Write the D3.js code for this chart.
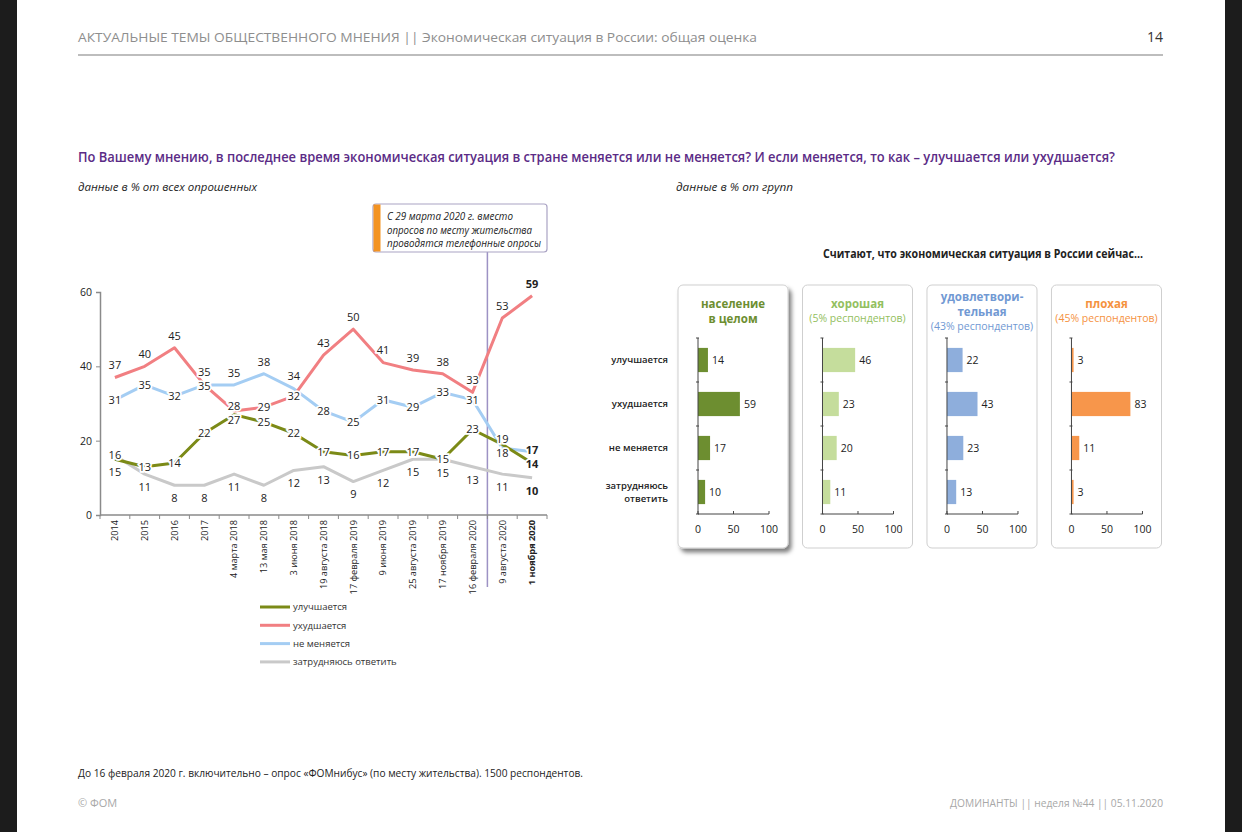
<!DOCTYPE html>
<html>
<head>
<meta charset="utf-8">
<script src="https://cdn.jsdelivr.net/npm/d3@7"></script>
<style>
  body { margin: 0; background: #1c1c1c; }
  svg { display: block; font-family: "Open Sans", sans-serif; }
</style>
</head>
<body>
<svg id="page" width="1242" height="832"></svg>
<script>
// line chart data
const dates = ["2014", "2015", "2016", "2017", "4 марта 2018", "13 мая 2018", "3 июня 2018",
  "19 августа 2018", "17 февраля 2019", "9 июня 2019", "25 августа 2019", "17 ноября 2019",
  "16 февраля 2020", "9 августа 2020", "1 ноября 2020"];
const worse = [37, 40, 45, 35, 28, 29, 32, 43, 50, 41, 39, 38, 33, 53, 59];
const same = [31, 35, 32, 35, 35, 38, 34, 28, 25, 31, 29, 33, 31, 18, 17];
const better = [15, 13, 14, 22, 27, 25, 22, 17, 16, 17, 17, 15, 23, 19, 14];
const hard = [16, 11, 8, 8, 11, 8, 12, 13, 9, 12, 15, 15, 13, 11, 10];
const yTicks = [0, 20, 40, 60];

// group panels data
const answers = ["улучшается", "ухудшается", "не меняется", "затрудняюсь ответить"];
const groupTitles = [["население", "в целом"], ["хорошая"], ["удовлетвори-", "тельная"], ["плохая"]];
const groupNotes = ["", "(5% респондентов)", "(43% респондентов)", "(45% респондентов)"];
const grpAll = [14, 59, 17, 10];
const grpGood = [46, 23, 20, 11];
const grpOk = [22, 43, 23, 13];
const grpBad = [3, 83, 11, 3];
const panelTicks = [0, 50, 100];

const svg = d3.select("#page");

// text helper: squeeze to the width of the condensed original font
function fit(t, w) {
  t.attr("textLength", w).attr("lengthAdjust", "spacingAndGlyphs");
  return t;
}

// page
svg.append("rect").attr("x", 17).attr("y", 0).attr("width", 1208).attr("height", 832).attr("fill", "#fff");

const defs = svg.append("defs");
defs.append("filter").attr("id", "shadow").attr("x", "-10%").attr("y", "-10%").attr("width", "130%").attr("height", "130%")
  .append("feDropShadow").attr("dx", 3).attr("dy", 4).attr("stdDeviation", 2)
  .attr("flood-color", "#000").attr("flood-opacity", 0.5);

// header
var head = svg.append("text").attr("x", 78).attr("y", 42).attr("font-size", 13).attr("fill", "#8e8e8e");
head.append("tspan").text("АКТУАЛЬНЫЕ ТЕМЫ ОБЩЕСТВЕННОГО МНЕНИЯ  ||  ");
head.append("tspan").text("Экономическая ситуация в России: общая оценка");
fit(head, 679);
svg.append("text").attr("x", 1163).attr("y", 42).attr("text-anchor", "end")
  .attr("font-size", 14).attr("fill", "#333").text("14");
svg.append("line").attr("x1", 78).attr("x2", 1163).attr("y1", 55).attr("y2", 55)
  .attr("stroke", "#bdbdbd").attr("stroke-width", 2);

fit(svg.append("text").attr("x", 78).attr("y", 162).attr("font-size", 14).attr("font-weight", 600)
  .attr("fill", "#5b2b86")
  .text("По Вашему мнению, в последнее время экономическая ситуация в стране меняется или не меняется? И если меняется, то как – улучшается или ухудшается?"), 1037);

fit(svg.append("text").attr("x", 78).attr("y", 191).attr("font-size", 11).attr("font-style", "italic")
  .attr("fill", "#222").text("данные в % от всех опрошенных"), 179);
fit(svg.append("text").attr("x", 676).attr("y", 191).attr("font-size", 11).attr("font-style", "italic")
  .attr("fill", "#222").text("данные в % от групп"), 117);

// ---------- line chart ----------
const x = d3.scaleBand().domain(dates).range([100, 547]);
const y = d3.scaleLinear().domain([0, 60]).range([515, 292]);
const cx = d => x(d) + x.bandwidth() / 2;

const series = [
  { name: "улучшается", values: better, color: "#7b8a17" },
  { name: "ухудшается", values: worse, color: "#f17f82" },
  { name: "не меняется", values: same, color: "#a4cdf3" },
  { name: "затрудняюсь ответить", values: hard, color: "#c9c9c9" }
];

// switch of method
svg.append("line").attr("x1", x(dates[13])).attr("x2", x(dates[13]))
  .attr("y1", 252).attr("y2", 587).attr("stroke", "#9d92c4").attr("stroke-width", 1.5);

var note = svg.append("g");
note.append("rect").attr("x", 373).attr("y", 204).attr("width", 174).attr("height", 48).attr("rx", 3)
  .attr("fill", "#fff").attr("stroke", "#aaa3c4").attr("stroke-width", 1.2);
note.append("rect").attr("x", 373.5).attr("y", 204.5).attr("width", 7).attr("height", 47).attr("fill", "#f39322");
var noteLines = ["С 29 марта 2020 г. вместо", "опросов по месту жительства", "проводятся телефонные опросы"];
var noteW = [126, 145, 154];
noteLines.forEach(function (l, i) {
  fit(note.append("text").attr("x", 387).attr("y", 220 + i * 13.5).attr("font-size", 11)
    .attr("font-style", "italic").attr("fill", "#222").text(l), noteW[i]);
});

// axes
var axisY = svg.append("g").attr("transform", "translate(100,0)")
  .call(d3.axisLeft(y).tickValues(yTicks).tickSize(4).tickPadding(4));
axisY.select(".domain").attr("stroke", "#8a8a8a").attr("stroke-width", 1.5);
axisY.selectAll(".tick line").attr("stroke", "#8a8a8a");
axisY.selectAll("text").attr("font-size", 10.5).attr("fill", "#222").attr("font-family", "Open Sans");

svg.append("line").attr("x1", 100).attr("x2", 547).attr("y1", y(0)).attr("y2", y(0))
  .attr("stroke", "#8a8a8a").attr("stroke-width", 1.5);
svg.append("g").selectAll("line").data(dates.map(d => x(d)).concat([x.range()[1]])).join("line")
  .attr("x1", d => d).attr("x2", d => d).attr("y1", y(0)).attr("y2", y(0) + 4)
  .attr("stroke", "#8a8a8a");
svg.append("g").selectAll("text").data(dates).join("text")
  .attr("transform", d => "translate(" + cx(d) + "," + (y(0) + 5) + ") rotate(-90)")
  .attr("text-anchor", "end").attr("dy", "0.35em").attr("font-size", 9.2)
  .attr("font-weight", (d, i) => i === dates.length - 1 ? 700 : 400)
  .attr("fill", "#222").text(d => d);

// lines
var line = d3.line().x((v, i) => cx(dates[i])).y(v => y(v));
svg.append("g").selectAll("path").data(series.slice().reverse()).join("path")
  .attr("d", s => line(s.values)).attr("fill", "none")
  .attr("stroke", s => s.color).attr("stroke-width", 3).attr("stroke-linejoin", "round");

// labels: highest above, lowest below, the rest on the line; then push apart close ones
var order = [1, 2, 0, 3]; // tie order: ухудшается, не меняется, улучшается, затрудняюсь
var minGap = 14;
var labels = [];
dates.forEach(function (d, i) {
  var ranked = order.slice().sort((a, b) => series[b].values[i] - series[a].values[i]);
  var col = [];
  series.forEach(function (s, k) {
    var pos = ranked[0] === k ? -12 : ranked[3] === k ? 13 : 0;
    col.push({ x: cx(d), y: y(s.values[i]) + pos, v: s.values[i], last: i === dates.length - 1 });
  });
  col.sort((a, b) => a.y - b.y);
  for (var pass = 0; pass < 4; pass++) {
    for (var j = 1; j < col.length; j++) {
      var gap = col[j].y - col[j - 1].y;
      if (gap < minGap) {
        col[j - 1].y -= (minGap - gap) / 2;
        col[j].y += (minGap - gap) / 2;
      }
    }
  }
  labels = labels.concat(col);
});
svg.append("g").selectAll("text").data(labels).join("text")
  .attr("x", l => l.x).attr("y", l => l.y).attr("dy", "0.35em").attr("text-anchor", "middle")
  .attr("font-size", 11).attr("font-weight", l => l.last ? 700 : 400).attr("fill", "#222")
  .attr("stroke", "#fff").attr("stroke-width", 3.5).attr("paint-order", "stroke")
  .text(l => l.v);

// legend
var leg = svg.append("g").selectAll("g").data(series).join("g")
  .attr("transform", (s, i) => "translate(260," + (607 + i * 18.3) + ")");
leg.append("line").attr("x1", 0).attr("x2", 30).attr("stroke", s => s.color).attr("stroke-width", 3);
leg.append("text").attr("x", 33).attr("dy", "0.35em").attr("font-size", 9.5).attr("fill", "#333")
  .text(s => s.name);

// ---------- group panels ----------
fit(svg.append("text").attr("x", 823).attr("y", 258).attr("font-size", 12).attr("font-weight", 700)
  .attr("fill", "#222").text("Считают, что экономическая ситуация в России сейчас..."), 320);

const groups = [
  { values: grpAll, color: "#6d8e30", title: "#6d8e30" },
  { values: grpGood, color: "#c5dd9c", title: "#93c060" },
  { values: grpOk, color: "#8eaedc", title: "#7199d3" },
  { values: grpBad, color: "#f7964b", title: "#f5923f" }
];
const px = d3.scaleBand().domain(d3.range(groups.length)).range([678, 1161.5]).paddingInner(0.116);
const row = d3.scaleBand().domain(answers).range([338, 514]).paddingInner(0.45).paddingOuter(0.225);

groups.forEach(function (g, k) {
  var bx = px(k), bw = px.bandwidth();
  var p = svg.append("g");
  p.append("rect").attr("x", bx).attr("y", 285).attr("width", bw).attr("height", 263).attr("rx", 5)
    .attr("fill", "#fff").attr("stroke", "#cfcfcf").attr("stroke-width", 1)
    .attr("filter", k === 0 ? "url(#shadow)" : null);

  var t = groupTitles[k];
  var ty = t.length === 2 && groupNotes[k] ? 297 : 304;
  t.forEach(function (line, j) {
    p.append("text").attr("x", bx + bw / 2).attr("y", ty + j * 15).attr("text-anchor", "middle")
      .attr("font-size", 11.5).attr("font-weight", 700).attr("fill", g.title).attr("dy", "0.35em").text(line);
  });
  if (groupNotes[k]) {
    p.append("text").attr("x", bx + bw / 2).attr("y", ty + t.length * 15 - 1).attr("text-anchor", "middle")
      .attr("font-size", 10.5).attr("fill", g.title).attr("dy", "0.35em").text(groupNotes[k]);
  }

  var xv = d3.scaleLinear().domain([0, 100]).range([bx + 20, bx + 91]);
  p.selectAll("rect.bar").data(g.values).join("rect").attr("class", "bar")
    .attr("x", xv(0)).attr("y", (v, i) => row(answers[i]))
    .attr("width", v => xv(v) - xv(0)).attr("height", row.bandwidth()).attr("fill", g.color);
  p.selectAll("text.val").data(g.values).join("text").attr("class", "val")
    .attr("x", v => xv(v) + 4).attr("y", (v, i) => row(answers[i]) + row.bandwidth() / 2)
    .attr("dy", "0.35em").attr("font-size", 10.5).attr("fill", "#222").text(v => v);

  // axes
  p.append("line").attr("x1", xv(0)).attr("x2", xv(0)).attr("y1", row.range()[0]).attr("y2", row.range()[1])
    .attr("stroke", "#444").attr("stroke-width", 1);
  p.append("line").attr("x1", xv(0)).attr("x2", xv(100)).attr("y1", row.range()[1]).attr("y2", row.range()[1])
    .attr("stroke", "#444").attr("stroke-width", 1);
  var bounds = answers.map(a => row(a) - row.step() * row.paddingInner() / 2).concat([row.range()[1]]);
  p.selectAll("line.rt").data(bounds).join("line").attr("class", "rt")
    .attr("x1", xv(0) - 2).attr("x2", xv(0) + 1).attr("y1", d => d).attr("y2", d => d).attr("stroke", "#444");
  p.selectAll("line.xt").data(panelTicks).join("line").attr("class", "xt")
    .attr("x1", d => xv(d)).attr("x2", d => xv(d)).attr("y1", row.range()[1] - 3).attr("y2", row.range()[1])
    .attr("stroke", "#444");
  p.selectAll("text.xl").data(panelTicks).join("text").attr("class", "xl")
    .attr("x", d => xv(d)).attr("y", 529).attr("dy", "0.35em").attr("text-anchor", "middle")
    .attr("font-size", 10.5).attr("fill", "#222").text(d => d);
});

// row labels
var rowLabels = svg.append("g");
answers.forEach(function (a, i) {
  var parts = i === answers.length - 1 ? a.split(" ") : [a];
  var cy = row(a) + row.bandwidth() / 2;
  parts.forEach(function (part, j) {
    rowLabels.append("text").attr("x", 668).attr("y", cy + (j - (parts.length - 1) / 2) * 12.5)
      .attr("dy", "0.35em").attr("text-anchor", "end").attr("font-size", 9.5).attr("font-weight", 600)
      .attr("fill", "#222").text(part);
  });
});

// footer
fit(svg.append("text").attr("x", 78).attr("y", 777).attr("font-size", 10.5).attr("fill", "#222")
  .text("До 16 февраля 2020 г. включительно – опрос «ФОМнибус» (по месту жительства). 1500 респондентов."), 505);
svg.append("text").attr("x", 78).attr("y", 807).attr("font-size", 11).attr("fill", "#a8a8a8").text("© ФОМ");
fit(svg.append("text").attr("x", 1163).attr("y", 807).attr("text-anchor", "end").attr("font-size", 11)
  .attr("fill", "#a8a8a8").text("ДОМИНАНТЫ  ||  неделя №44 || 05.11.2020"), 213);
</script>
</body>
</html>
